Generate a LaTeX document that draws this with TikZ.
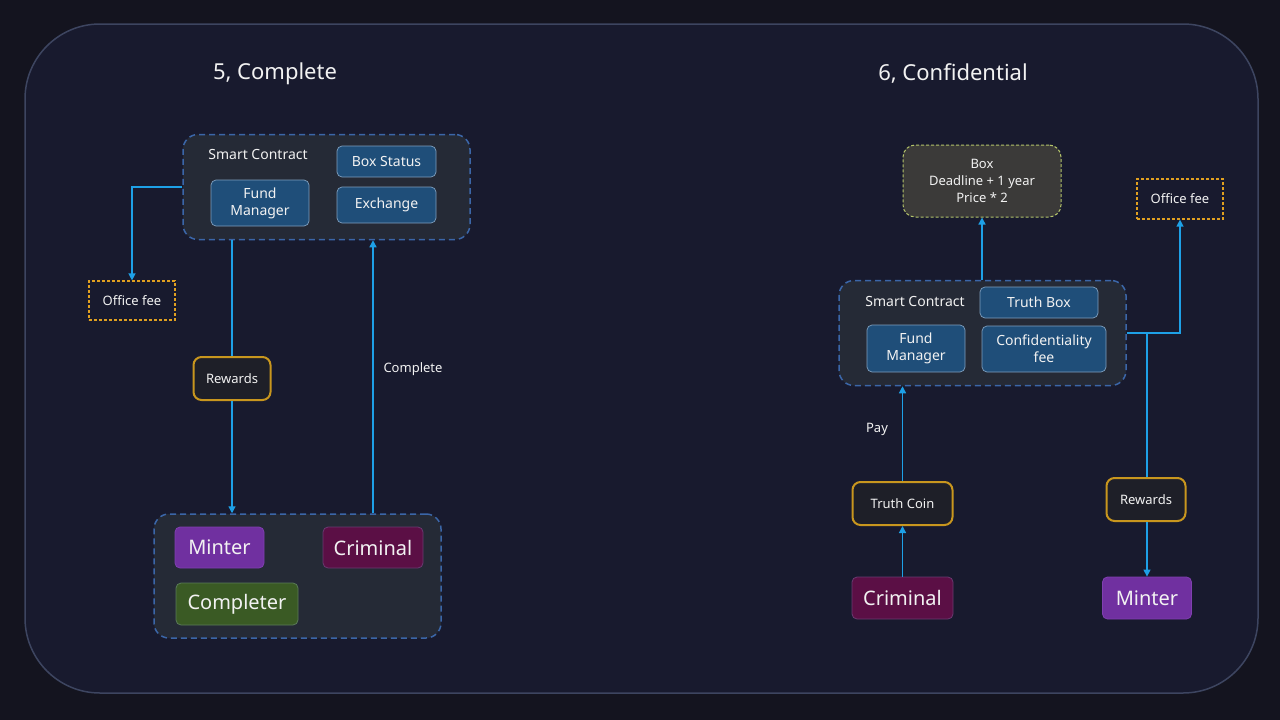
\documentclass[tikz,border=0pt]{standalone}
\usepackage{fontspec}
\setmainfont{Noto Sans}
\usetikzlibrary{arrows.meta}
\definecolor{bgc}{HTML}{14141F}
\definecolor{framefill}{HTML}{181A2E}
\definecolor{frameline}{HTML}{3D4560}
\definecolor{contfill}{HTML}{252A36}
\definecolor{contline}{HTML}{3B66A8}
\definecolor{innerfill}{HTML}{1F4E79}
\definecolor{innerline}{HTML}{7F9FBF}
\definecolor{officeline}{HTML}{E0A020}
\definecolor{rewline}{HTML}{C8961E}
\definecolor{rewfill}{HTML}{1E1F28}
\definecolor{boxfill}{HTML}{3B3A39}
\definecolor{boxline}{HTML}{B4C46A}
\definecolor{mintfill}{HTML}{7030A0}
\definecolor{mintline}{HTML}{8040B0}
\definecolor{crimfill}{HTML}{5B0F45}
\definecolor{crimline}{HTML}{6A3A70}
\definecolor{compfill}{HTML}{3A5A24}
\definecolor{compline}{HTML}{5A7A58}
\definecolor{arrc}{HTML}{1EA0E6}
\definecolor{txt}{HTML}{F2F2F2}
\tikzset{
  every node/.style={text=txt, inner sep=0pt, align=center},
  cont/.style={draw=contline, fill=contfill, line width=1.5pt, dash pattern=on 6pt off 4pt, rounded corners=15pt},
  inner/.style={draw=innerline, fill=innerfill, line width=0.7pt, rounded corners=5pt, font=\fontsize{14}{17}\selectfont},
  office/.style={draw=officeline, fill=framefill, line width=1.2pt, dash pattern=on 3pt off 2pt, font=\fontsize{13}{15}\selectfont},
  rew/.style={draw=rewline, fill=rewfill, line width=2pt, rounded corners=8pt, font=\fontsize{13}{15}\selectfont},
  actor/.style={line width=0.8pt, rounded corners=5pt, font=\fontsize{20}{22}\selectfont},
  lbl/.style={font=\fontsize{13}{15}\selectfont},
  ttl/.style={font=\fontsize{22}{24}\selectfont},
  arr/.style={draw=arrc, line width=1.3pt, -{Triangle[width=7pt,length=7pt]}},
  ln/.style={draw=arrc, line width=1.3pt},
}
\begin{document}
\begin{tikzpicture}[x=1pt,y=-1pt]
\fill[bgc] (0,0) rectangle (1280,720);
\useasboundingbox (0,0) rectangle (1280,720);
\draw[frameline, fill=framefill, line width=1.5pt, rounded corners=75pt] (25,24) rectangle (1258,693);

% ---------- Left ----------
\node[ttl] (t5) at (275,74) {5, Complete};
\node[cont, minimum width=287pt, minimum height=105pt] (sc1) at (326.5,187) {};
\node[font=\fontsize{14}{15}\selectfont] (sclab1) at (258,155) {Smart Contract};
\node[inner, minimum width=99pt, minimum height=31pt] (bs) at (386.5,161.5) {Box Status};
\node[inner, minimum width=99pt, minimum height=36pt] (ex) at (386.5,205) {Exchange};
\node[inner, minimum width=98pt, minimum height=46pt] (fm1) at (260,203) {Fund\\Manager};
\node[office, minimum width=86pt, minimum height=39pt] (of1) at (132,300.5) {Office fee};
\node[rew, minimum width=77pt, minimum height=43pt] (rw1) at (232,378.5) {Rewards};
\node[cont, minimum width=287pt, minimum height=124pt] (bot) at (297.5,576) {};
\node[actor, draw=mintline, fill=mintfill, minimum width=89pt, minimum height=41pt] (mi1) at (219.5,547.5) {Minter};
\node[actor, draw=crimline, fill=crimfill, minimum width=100pt, minimum height=41pt] (cr1) at (373,547.5) {Criminal};
\node[actor, draw=compline, fill=compfill, minimum width=122pt, minimum height=42pt] (co1) at (237,604) {Completer};
\node[lbl] (complab) at (413,369) {Complete};

\draw[arr] (sc1.west) -| (of1.north);
\draw[ln] (sc1.south -| rw1) -- (rw1.north);
\draw[arr] (rw1.south) -- (rw1.south |- bot.north);
\draw[arr] (bot.north -| cr1) -- (sc1.south -| cr1);

% ---------- Right ----------
\node[ttl] (t6) at (953,74) {6, Confidential};
\node[draw=boxline, fill=boxfill, line width=1pt, dash pattern=on 3pt off 2pt, rounded corners=12pt, minimum width=158pt, minimum height=72pt, font=\fontsize{13}{17}\selectfont] (box) at (982,181) {Box\\Deadline + 1 year\\Price * 2};
\node[office, minimum width=86pt, minimum height=40pt] (of2) at (1180,199) {Office fee};
\node[cont, minimum width=287pt, minimum height=105pt] (sc2) at (982.5,333) {};
\node[font=\fontsize{14}{15}\selectfont] (sclab2) at (915,301) {Smart Contract};
\node[inner, minimum width=118pt, minimum height=31pt] (tb) at (1039,302.5) {Truth Box};
\node[inner, minimum width=98pt, minimum height=47pt] (fm2) at (916,348.5) {Fund\\Manager};
\node[inner, minimum width=124pt, minimum height=46pt] (cf) at (1044,349) {Confidentiality\\fee};
\node[rew, minimum width=79pt, minimum height=43pt] (rw2) at (1146,499.5) {Rewards};
\node[actor, draw=mintline, fill=mintfill, minimum width=89pt, minimum height=42pt] (mi2) at (1147,598) {Minter};
\node[rew, minimum width=100pt, minimum height=43pt] (tc) at (902.5,503.5) {Truth Coin};
\node[actor, draw=crimline, fill=crimfill, minimum width=101pt, minimum height=42pt] (cr2) at (902.5,598) {Criminal};
\node[lbl] (paylab) at (877,429) {Pay};

\draw[arr] (sc2.north -| box) -- (box.south);
\draw[arr] (sc2.east) -| (of2.south);
\draw[ln] (sc2.east -| mi2) -- (rw2.north -| mi2);
\draw[arr] (rw2.south -| mi2) -- (mi2.north);
\draw[arr] (cr2.north) -- (tc.south);
\draw[arr] (tc.north) -- (tc.north |- sc2.south);
\end{tikzpicture}
\end{document}
